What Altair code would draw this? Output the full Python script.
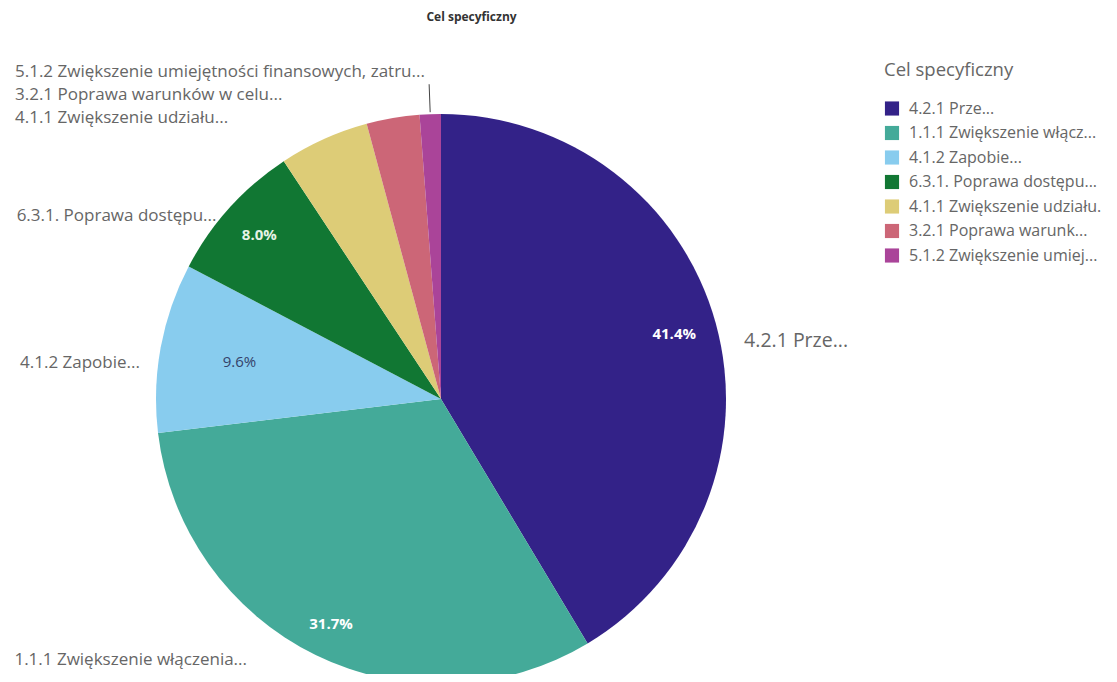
import math
import altair as alt
import pandas as pd

# ---- data ----
legend_names = [
    "4.2.1 Prze...",
    "1.1.1 Zwiększenie włącz...",
    "4.1.2 Zapobie...",
    "6.3.1. Poprawa dostępu...",
    "4.1.1 Zwiększenie udziału.",
    "3.2.1 Poprawa warunk...",
    "5.1.2 Zwiększenie umiej...",
]
slice_labels = [
    "4.2.1 Prze...",
    "1.1.1 Zwiększenie włączenia...",
    "4.1.2 Zapobie...",
    "6.3.1. Poprawa dostępu...",
    "4.1.1 Zwiększenie udziału...",
    "3.2.1 Poprawa warunków w celu...",
    "5.1.2 Zwiększenie umiejętności finansowych, zatru...",
]
shares = [41.4, 31.7, 9.6, 8.0, 5.1, 3.0, 1.2]
colors = ["#332288", "#44AA99", "#88CCEE", "#117733", "#DDCC77", "#CC6677", "#AA4499"]

# ---- layout constants ----
W, H = 1101, 640
TOP = 26
CX, CY = 433, 399 - 8 - TOP
R = 285
FONT = "Open Sans"
GREY = "#666666"

df = pd.DataFrame({
    "idx": list(range(len(shares))),
    "name": legend_names,
    "label": slice_labels,
    "share": shares,
})
df["pct"] = df["share"].map(lambda v: f"{v:.1f}%")
df["row"] = [0, 0, 0, 0, 2, 1, 0]

color_scale = alt.Scale(domain=legend_names, range=colors)

base = alt.Chart(df).encode(
    theta=alt.Theta("share:Q", stack=True),
    order=alt.Order("idx:Q", sort="ascending"),
    x=alt.value(CX),
    y=alt.value(CY),
)

pie = base.mark_arc(outerRadius=R).encode(
    color=alt.Color(
        "name:N",
        scale=color_scale,
        sort=legend_names,
        legend=alt.Legend(
            title="Cel specyficzny", orient="none", legendX=876, legendY=27,
            titleFont=FONT, titleFontSize=18.5, titleFontWeight="normal", titleColor=GREY,
            titlePadding=21, labelFont=FONT, labelFontSize=16, labelColor=GREY,
            symbolType="square", symbolSize=200, symbolStrokeWidth=0, rowPadding=8.5,
            labelLimit=300, symbolOpacity=1, labelOffset=9,
        ),
    )
)


def pct_layer(i, radius, color, weight):
    return base.mark_text(radius=radius, font=FONT, fontSize=15, fontWeight=weight,
                          color=color).encode(
        text="pct:N",
        opacity=alt.condition(f"datum.idx == {i}", alt.value(1), alt.value(0)),
    )


def label_layer(i, radius, align, size, dx=0, dy=0):
    return base.mark_text(radius=radius, align=align, baseline="middle", font=FONT,
                          fontSize=size, color=GREY, dx=dx, dy=dy).encode(
        text="label:N",
        opacity=alt.condition(f"datum.idx == {i}", alt.value(1), alt.value(0)),
    )


pcts = [
    pct_layer(0, 242, "white", "bold"),
    pct_layer(1, 250, "white", "bold"),
    pct_layer(2, 205, "#34426a", "normal"),
    pct_layer(3, 245, "#e6f2e6", "bold"),
]
labels = [
    label_layer(0, 300, "left", 19.5, dx=14, dy=22),
    label_layer(1, 300, "right", 17, dx=-62, dy=-8),
    label_layer(2, 300, "right", 17, dx=-6, dy=18),
    label_layer(3, 300, "right", 17, dx=-2, dy=18),
]

small_labels = alt.Chart(df).transform_filter("datum.idx >= 4").mark_text(
    align="left", baseline="middle", font=FONT, fontSize=17, color=GREY
).encode(
    x=alt.value(7),
    y=alt.Y("row:Q", scale=alt.Scale(domain=[0, 2], range=[71 - 8 - TOP + 1, 117 - 8 - TOP + 1]), axis=None),
    text="label:N",
)

# leader line for the smallest slice, derived from the data
before = sum(shares[:-1])
mid = (before + shares[-1] / 2) / sum(shares) * 2 * math.pi
r1, r2 = R + 2, R + 30
leader = pd.DataFrame({
    "x": [CX + r1 * math.sin(mid)], "y": [CY - r1 * math.cos(mid)],
    "x2": [CX + r2 * math.sin(mid)], "y2": [CY - r2 * math.cos(mid)],
})
leader_rule = alt.Chart(leader).mark_rule(color="#444444", strokeWidth=1).encode(
    x=alt.X("x:Q", scale=None, axis=None), y=alt.Y("y:Q", scale=None, axis=None),
    x2="x2:Q", y2="y2:Q",
)

chart = alt.layer(pie, *pcts, *labels, small_labels, leader_rule).resolve_scale(
    y="independent"
).properties(
    width=W,
    height=H,
    background="white",
    autosize=alt.AutoSizeParams(type="none"),
    padding={"left": 0, "top": TOP, "right": 0, "bottom": 0},
    title=alt.TitleParams("Cel specyficzny", font=FONT, fontSize=12, fontWeight="bold",
                          color="#333333", anchor="middle", dx=-87, offset=10),
).configure_view(strokeWidth=0, stroke="transparent")

chart.save("out.html", embed_options={"renderer": "svg", "actions": False})
